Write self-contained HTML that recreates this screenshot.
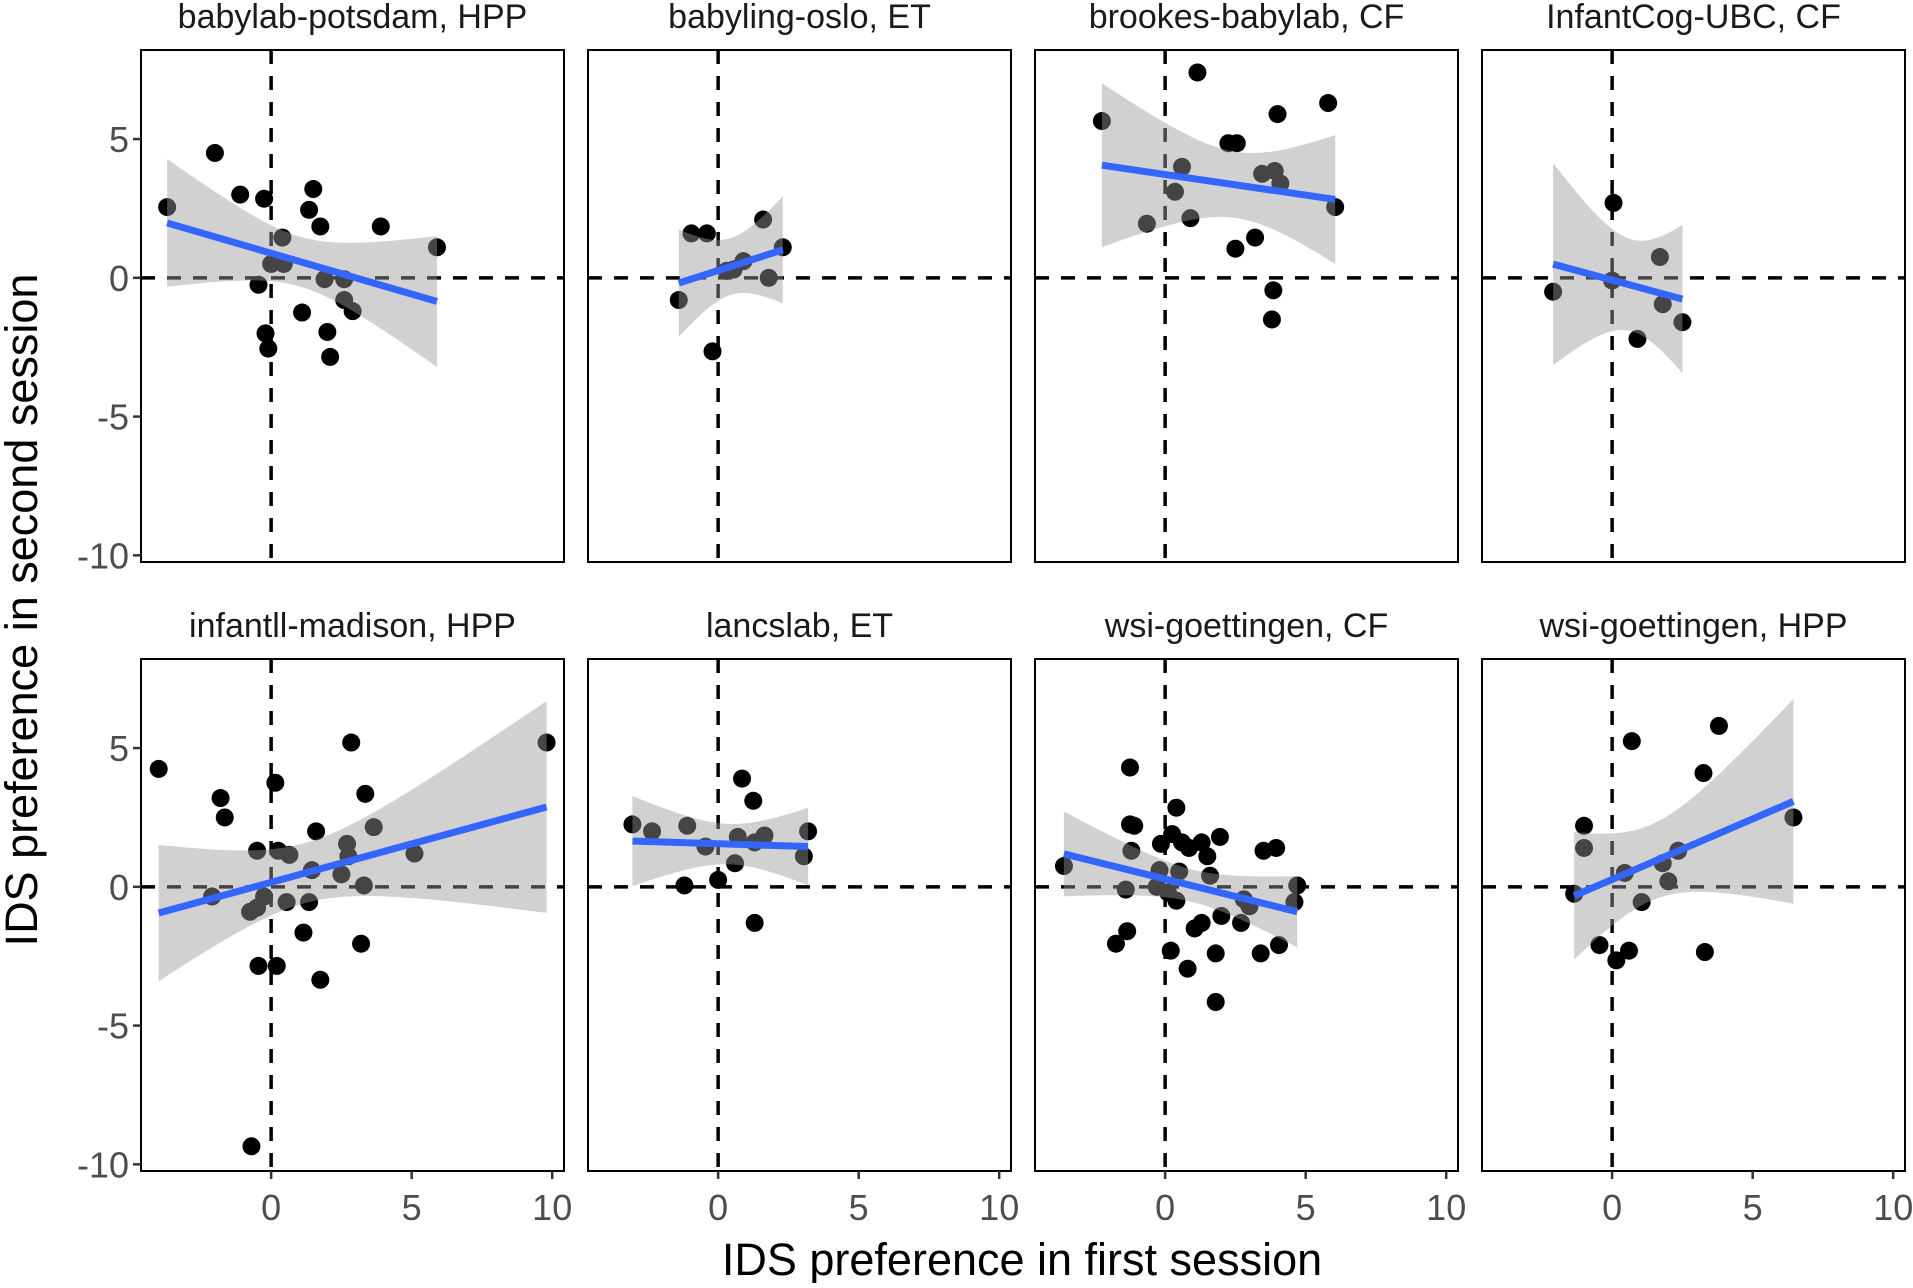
<!DOCTYPE html>
<html><head><meta charset="utf-8"><style>
html,body{margin:0;padding:0;background:#fff;}
svg text{font-family:"Liberation Sans",Arial,sans-serif;}
</style></head>
<body>
<svg id="chart" width="1913" height="1283" viewBox="0 0 1913 1283" xmlns="http://www.w3.org/2000/svg">
<text x="1022" y="1275" font-size="45" text-anchor="middle" fill="#000">IDS preference in first session</text>
<text transform="translate(37,610) rotate(-90)" font-size="45" text-anchor="middle" fill="#000">IDS preference in second session</text>
</svg>
<script>
const panelTitles = ["babylab-potsdam, HPP","babyling-oslo, ET","brookes-babylab, CF","InfantCog-UBC, CF","infantll-madison, HPP","lancslab, ET","wsi-goettingen, CF","wsi-goettingen, HPP"];
const xTicks = [0,5,10];
const yTicks = [5,0,-5,-10];
const p1x=[-3.7,-2.0,-1.1,-0.25,1.5,1.35,1.75,3.9,5.9,0.4,0.0,0.45,-0.45,1.9,2.6,2.6,2.9,1.1,2.0,-0.2,-0.1,2.1];
const p1y=[2.55,4.5,3.0,2.85,3.2,2.45,1.85,1.85,1.1,1.45,0.5,0.5,-0.25,-0.05,-0.05,-0.8,-1.2,-1.25,-1.95,-2.0,-2.55,-2.85];
const p2x=[-1.4,-0.95,-0.4,-0.2,0.3,0.55,0.9,1.6,1.8,2.3];
const p2y=[-0.8,1.6,1.6,-2.65,0.25,0.3,0.6,2.1,0.0,1.1];
const p3x=[-2.25,1.15,5.8,4.0,2.25,2.55,0.6,0.35,-0.65,0.9,3.45,3.9,4.1,3.2,2.5,6.05,3.85,3.8];
const p3y=[5.65,7.4,6.3,5.9,4.85,4.85,4.0,3.1,1.95,2.15,3.75,3.85,3.4,1.45,1.05,2.55,-0.45,-1.5];
const p4x=[-2.1,0.05,0,1.7,1.8,0.9,2.5];
const p4y=[-0.5,2.7,-0.1,0.75,-0.95,-2.2,-1.6];
const p5x=[-4.0,-1.8,-1.65,0.15,2.85,9.8,3.35,3.65,1.6,2.7,2.75,5.1,-0.5,0.25,0.65,1.45,2.5,3.3,-2.1,-0.25,-0.5,-0.75,0.55,1.35,1.15,3.2,-0.45,0.2,1.75,-0.7];
const p5y=[4.25,3.2,2.5,3.75,5.2,5.2,3.35,2.15,2.0,1.55,1.1,1.2,1.3,1.3,1.15,0.6,0.45,0.05,-0.35,-0.35,-0.75,-0.9,-0.55,-0.55,-1.65,-2.05,-2.85,-2.85,-3.35,-9.35];
const p6x=[-3.05,-2.35,-1.1,-0.45,-1.2,0.0,0.85,1.25,0.7,1.3,1.65,0.6,1.3,3.2,3.05];
const p6y=[2.25,2.0,2.2,1.45,0.05,0.25,3.9,3.1,1.8,1.6,1.85,0.85,-1.3,2.0,1.1];
const p7x=[-3.6,-1.25,-1.25,-1.1,-1.2,0.4,0.25,-0.15,0.6,0.85,1.3,1.5,1.95,3.5,3.95,-0.2,0.5,1.6,-1.4,-0.3,0.1,0.4,2.8,3.0,4.7,4.6,2.0,1.3,1.05,2.7,-1.35,-1.75,0.2,4.05,3.4,1.8,0.8,1.8];
const p7y=[0.75,4.3,2.25,2.2,1.3,2.85,1.9,1.55,1.6,1.4,1.6,1.1,1.8,1.3,1.4,0.6,0.55,0.4,-0.1,0.0,-0.2,-0.5,-0.45,-0.7,0.05,-0.55,-1.05,-1.3,-1.5,-1.3,-1.6,-2.05,-2.3,-2.1,-2.4,-2.4,-2.95,-4.15];
const p8x=[-1.35,-1.0,-1.0,0.7,3.8,3.25,6.45,2.35,1.8,2.0,0.45,1.05,-0.45,0.6,0.15,3.3];
const p8y=[-0.25,2.2,1.4,5.25,5.8,4.1,2.5,1.3,0.85,0.2,0.5,-0.55,-2.1,-2.3,-2.65,-2.35];
const allX=[p1x,p2x,p3x,p4x,p5x,p6x,p7x,p8x];
const allY=[p1y,p2y,p3y,p4y,p5y,p6y,p7y,p8y];

const NS="http://www.w3.org/2000/svg";
const svg=document.getElementById('chart');
const lefts=[141,588,1035,1482], tops=[50,659], W=423, H=512;
const XMIN=-4.63, XMAX=10.42, YMIN=-10.24, YMAX=8.21;
function mk(tag,attrs,parent){const e=document.createElementNS(NS,tag);for(const k in attrs)e.setAttribute(k,attrs[k]);(parent||svg).appendChild(e);return e;}
function tq(df){return 1.96+2.37/df+2.8/(df*df);}

for(let i=0;i<8;i++){
  const col=i%4,row=Math.floor(i/4);
  const L=lefts[col],T=tops[row];
  const sx=v=>L+(v-XMIN)/(XMAX-XMIN)*W;
  const sy=v=>T+(YMAX-v)/(YMAX-YMIN)*H;
  const g=mk('g',{});
  
  
  const title=mk('text',{x:L+W/2,y:T-22,'font-size':34,'text-anchor':'middle',fill:'#1a1a1a'},g);
  title.textContent=panelTitles[i];
  
  
  const cp='clip'+i;
  const cl=mk('clipPath',{id:cp},g);mk('rect',{x:L,y:T,width:W,height:H},cl);
  const inner=mk('g',{'clip-path':'url(#'+cp+')'},g);
  const hl=mk('line',{x1:L,x2:L+W,y1:sy(0),y2:sy(0),stroke:'#000','stroke-width':3.5,'stroke-dasharray':'14 12'},inner);
  
  
  const vl=mk('line',{x1:sx(0),x2:sx(0),y1:T,y2:T+H,stroke:'#000','stroke-width':3.5,'stroke-dasharray':'14 12'},inner);
  
  
  const xs=allX[i],ys=allY[i],n=xs.length;
  for(let j=0;j<n;j++){
    const c=mk('circle',{cx:sx(xs[j]),cy:sy(ys[j]),r:9,fill:'#000'},inner);
    
    
  }
  let mx=0,my=0;for(let j=0;j<n;j++){mx+=xs[j];my+=ys[j];}mx/=n;my/=n;
  let sxx=0,sxy=0;for(let j=0;j<n;j++){sxx+=(xs[j]-mx)**2;sxy+=(xs[j]-mx)*(ys[j]-my);}
  const b=sxy/sxx,a=my-b*mx;
  let sse=0;for(let j=0;j<n;j++){sse+=(ys[j]-a-b*xs[j])**2;}
  const s=Math.sqrt(sse/(n-2)),t=tq(n-2);
  const x0=Math.min(...xs),x1=Math.max(...xs);
  const up=[],lo=[];
  for(let k=0;k<=80;k++){const x=x0+(x1-x0)*k/80;const f=a+b*x;const se=s*Math.sqrt(1/n+(x-mx)**2/sxx);
    up.push(sx(x).toFixed(1)+','+sy(f+t*se).toFixed(1));lo.unshift(sx(x).toFixed(1)+','+sy(f-t*se).toFixed(1));}
  const rib=mk('polygon',{points:up.concat(lo).join(' '),fill:'#999999','fill-opacity':0.45},inner);
  
  
  const fl=mk('line',{x1:sx(x0),y1:sy(a+b*x0),x2:sx(x1),y2:sy(a+b*x1),stroke:'#3366FF','stroke-width':7},inner);
  
  
  const fr=mk('rect',{x:L,y:T,width:W,height:H,fill:'none',stroke:'#000','stroke-width':2},g);
  
  
  if(col===0){
    yTicks.forEach(v=>{
      mk('line',{x1:L-8,x2:L,y1:sy(v),y2:sy(v),stroke:'#333','stroke-width':2.5},g);
      const tx=mk('text',{x:L-12,y:sy(v)+13,'font-size':36,'text-anchor':'end',fill:'#4d4d4d'},g);
      tx.textContent=v;
      
      
    });
  }
  if(row===1){
    xTicks.forEach(v=>{
      mk('line',{x1:sx(v),x2:sx(v),y1:T+H,y2:T+H+8,stroke:'#333','stroke-width':2.5},g);
      const tx=mk('text',{x:sx(v),y:T+H+49,'font-size':36,'text-anchor':'middle',fill:'#4d4d4d'},g);
      tx.textContent=v;
      
      
    });
  }
}
</script>
</body></html>
